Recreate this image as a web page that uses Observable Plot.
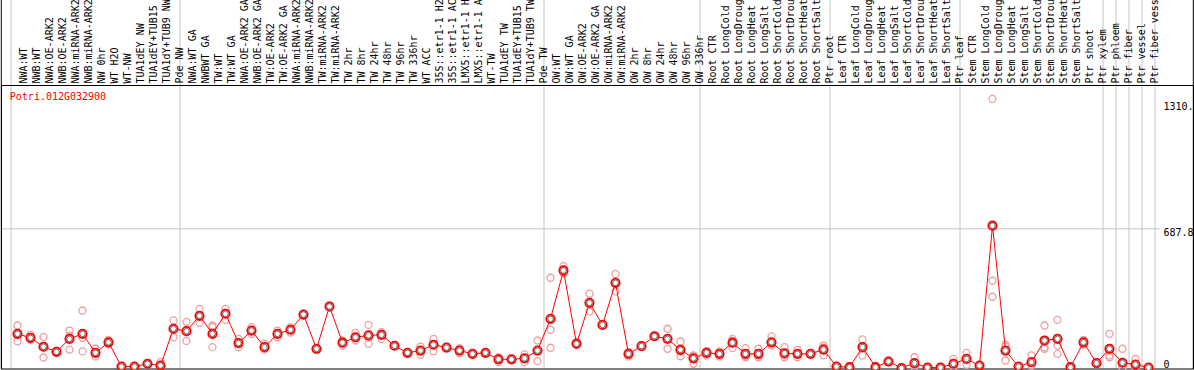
<!DOCTYPE html>
<html><head><meta charset="utf-8">
<script src="https://cdn.jsdelivr.net/npm/d3@7"></script>
<script src="https://cdn.jsdelivr.net/npm/@observablehq/plot@0.6"></script>
<style>body{margin:0;background:#fff}</style>
</head><body><div id="chart"></div>
<script>
const gene = "Potri.012G032900";
const categories = [
"NWA:WT","NWB:WT","NWA:OE-ARK2","NWB:OE-ARK2","NWA:miRNA-ARK2","NWB:miRNA-ARK2","NW 0hr","WT H2O","WT-NW","TUA1dEY NW","TUA1dEY+TUB15 NW","TUA1dY+TUB9 NW","Pde NW",
"NWA:WT GA","NWBWT GA","TW:WT","TW:WT GA","NWA:OE-ARK2 GA","NWB:OE-ARK2 GA","TW:OE-ARK2","TW:OE-ARK2 GA","NWA:miRNA-ARK2 GA","NWB:miRNA-ARK2 GA","TW:miRNA-ARK2","TW:miRNA-ARK2 GA","TW 2hr","TW 8hr","TW 24hr","TW 48hr","TW 96hr","TW 336hr","WT ACC","35S::etr1-1 H2O","35S::etr1-1 ACC","LMX5::etr1-1 H2O","LMX5::etr1-1 ACC","WT-TW","TUA1dEY TW","TUA1dEY+TUB15 TW","TUA1dY+TUB9 TW","Pde TW",
"OW:WT","OW:WT GA","OW:OE-ARK2","OW:OE-ARK2 GA","OW:miRNA-ARK2","OW:miRNA-ARK2 GA","OW 2hr","OW 8hr","OW 24hr","OW 48hr","OW 96hr","OW 336hr",
"Root CTR","Root LongCold","Root LongDrought","Root LongHeat","Root LongSalt","Root ShortCold","Root ShortDrought","Root ShortHeat","Root ShortSalt","Ptr root",
"Leaf CTR","Leaf LongCold","Leaf LongDrought","Leaf LongHeat","Leaf LongSalt","Leaf ShortCold","Leaf ShortDrought","Leaf ShortHeat","Leaf ShortSalt","Ptr leaf",
"Stem CTR","Stem LongCold","Stem LongDrought","Stem LongHeat","Stem LongSalt","Stem ShortCold","Stem ShortDrought","Stem ShortHeat","Stem ShortSalt","Ptr shoot","Ptr xylem",
"Ptr phloem","Ptr fiber","Ptr vessel","Ptr fiber vessel"];
const means = [169,149,105,80,144,169,75,127,7,7,21,12,194,
182,258,169,268,123,185,103,169,189,264,95,304,125,152,161,164,110,75,86,115,101,86,70,75,43,43,48,86,
243,482,120,322,213,421,70,108,157,144,90,48,
75,70,125,70,70,127,73,70,70,91,
7,4,103,4,32,0,24,2,2,21,
45,12,703,86,7,29,136,144,4,127,24,
95,26,17,2];
const rep1 = [210,164,154,85,185,284,95,139,7,7,21,30,235,
228,292,210,292,144,202,120,185,202,268,98,308,136,174,213,177,113,75,106,144,104,98,70,75,53,45,67,136,
446,503,125,367,215,465,78,110,159,194,131,62,
83,82,144,98,95,156,103,90,72,111,
7,4,141,4,35,0,53,2,7,45,
75,14,1330,106,7,62,210,238,4,139,26,
169,95,45,3];
const rep2 = [132,139,52,78,160,149,57,116,5,6,19,4,152,
134,223,202,238,103,185,91,152,175,260,92,300,111,136,150,144,108,73,65,83,99,73,68,73,29,41,48,34,
189,468,115,279,211,379,57,106,155,95,58,21,
62,57,98,53,53,111,53,53,68,62,
5,3,62,3,30,0,4,1,0,4,
16,10,431,37,5,12,95,111,3,126,22,
62,0,5,1];
const rep3 = [165,144,109,77,91,82,73,126,9,8,23,2,195,
184,259,103,274,122,168,98,170,190,264,95,304,128,146,120,171,110,77,87,118,100,87,72,77,47,43,29,88,
100,475,120,320,213,419,75,108,157,143,81,61,
80,71,133,59,62,114,63,67,70,100,
9,5,106,5,31,0,15,3,0,14,
44,12,352,115,9,13,103,70,5,116,24,
53,0,0,2];
const groupStarts = ["NWA:WT","NWA:WT GA","OW:WT","Root CTR","Leaf CTR","Stem CTR","Ptr phloem","Ptr fiber","Ptr vessel","Ptr fiber vessel"];
const yTicks = [1310, 687.8, 0];
const yTickLabels = ["1310.", "687.8", "0"];
const yGrid = [687.8];

const meanData = categories.map((c, i) => ({cat: c, v: means[i]}));
const repData = categories.flatMap((c, i) => [rep1[i], rep2[i], rep3[i]].map(v => ({cat: c, v})));
const tickData = yTicks.map((v, i) => ({v, label: yTickLabels[i]}));
const last = categories[categories.length - 1];
const step = 13;
const x0 = 17.2;
const xEnd = x0 + step * (categories.length - 1);

const chart = Plot.plot({
  width: 1194, height: 370,
  marginTop: 85, marginLeft: 1, marginRight: 1, marginBottom: 1.5,
  style: {fontFamily: "'DejaVu Sans Mono', monospace", fontSize: "10px", background: "white"},
  x: {type: "point", domain: categories, range: [x0, xEnd], padding: 0, axis: null},
  y: {type: "linear", domain: [0, 687.8], range: [367.5, 228.3], axis: null},
  marks: [
    Plot.ruleY(yGrid, {stroke: "#c4c4c4", insetRight: 33}),
    Plot.ruleX(groupStarts, {x: d => d, dx: -step / 2, stroke: "#c4c4c4", insetTop: -85}),
    Plot.ruleX([last], {x: d => d, dx: step / 2, stroke: "#c4c4c4", insetTop: -85}),
    Plot.ruleX([categories[0]], {x: d => d, dx: 1 - x0, stroke: "black", insetTop: -85}),
    Plot.ruleX([last], {x: d => d, dx: 1193 - xEnd, stroke: "black", insetTop: -85}),
    Plot.frame({stroke: "black"}),
    Plot.text(categories, {x: d => d, frameAnchor: "top", dy: -2, dx: 2.5, rotate: -90, textAnchor: "start", fill: "black"}),
    Plot.text([gene], {frameAnchor: "top-left", dx: 8.3, dy: 11.7, textAnchor: "start", lineAnchor: "middle", fill: "red"}),
    Plot.text(tickData, {filter: d => d.v > 0, y: "v", text: "label", frameAnchor: "right", dx: -30, textAnchor: "start", lineAnchor: "top", fill: "black"}),
    Plot.text(tickData, {filter: d => d.v === 0, y: "v", text: "label", frameAnchor: "right", dx: -30, textAnchor: "start", lineAnchor: "bottom", fill: "black"}),
    Plot.dot(repData, {x: "cat", y: "v", r: 3.5, stroke: "#ee9f9f", strokeWidth: 1.3, fill: "none"}),
    Plot.line(meanData, {x: "cat", y: "v", stroke: "red", strokeWidth: 1}),
    Plot.dot(meanData, {x: "cat", y: "v", r: 4.2, stroke: "red", strokeWidth: 1.8, fill: "white"}),
    Plot.dot(meanData, {x: "cat", y: "v", r: 2.8, stroke: "black", strokeWidth: 0.6, fill: "none"})
  ]
});
document.getElementById("chart").appendChild(chart);
</script>
</body></html>
